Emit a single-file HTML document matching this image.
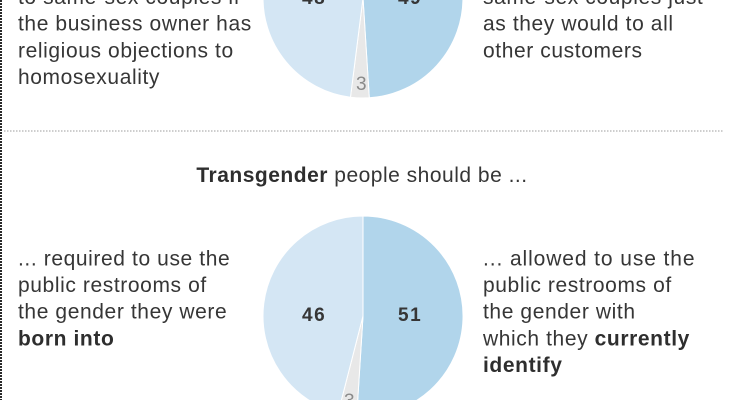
<!DOCTYPE html>
<html>
<head>
<meta charset="utf-8">
<style>
  html, body { margin: 0; padding: 0; background: #fff; }
  body { width: 740px; height: 400px; overflow: hidden; }
  svg { display: block; }
  .t { font-family: "Liberation Sans", Arial, sans-serif; font-size: 21px; fill: #363636; letter-spacing: 0.6px; }
  .b { font-weight: bold; fill: #2e2e2e; }
  .num { font-family: "Liberation Sans", Arial, sans-serif; font-size: 19px; font-weight: bold; fill: #363636; letter-spacing: 1.5px; }
  .three { font-family: "Liberation Sans", Arial, sans-serif; font-size: 19px; fill: #8a8a8a; }
</style>
</head>
<body>
<svg width="740" height="400" viewBox="0 0 740 400" xmlns="http://www.w3.org/2000/svg">
  <rect x="0" y="0" width="740" height="400" fill="#fff"/>

  <!-- left dotted border -->
  <line x1="1" y1="0" x2="1" y2="400" stroke="#2a2a2a" stroke-width="2" stroke-dasharray="2 1"/>

  <!-- horizontal dotted separator -->
  <line x1="4" y1="131" x2="723" y2="131" stroke="#bdbdbd" stroke-width="1.5" stroke-dasharray="1.5 1.5"/>

  <!-- Pie 1 -->
  <g stroke="#fff" stroke-width="1">
    <path d="M363,-2 L363,-102 A100,100 0 0 1 369.28,97.8 Z" fill="#b1d5eb"/>
    <path d="M363,-2 L369.28,97.8 A100,100 0 0 1 350.47,97.21 Z" fill="#e8e8e8"/>
    <path d="M363,-2 L350.47,97.21 A100,100 0 0 1 363,-102 Z" fill="#d4e6f4"/>
  </g>
  <text class="num" x="302" y="4">48</text>
  <text class="num" x="398" y="4">49</text>
  <text class="three" x="356" y="90">3</text>

  <!-- Pie 2 -->
  <g stroke="#fff" stroke-width="1">
    <path d="M363,316 L363,216 A100,100 0 1 1 356.72,415.8 Z" fill="#b1d5eb"/>
    <path d="M363,316 L356.72,415.8 A100,100 0 0 1 338.13,412.86 Z" fill="#e8e8e8"/>
    <path d="M363,316 L338.13,412.86 A100,100 0 0 1 363,216 Z" fill="#d4e6f4"/>
  </g>
  <text class="num" x="302" y="321">46</text>
  <text class="num" x="398" y="321">51</text>
  <text class="three" x="344" y="407">3</text>

  <!-- Top-left text -->
  <text class="t" x="18" y="4">to same-sex couples if</text>
  <text class="t" x="18" y="30.7">the business owner has</text>
  <text class="t" x="18" y="57.4">religious objections to</text>
  <text class="t" x="18" y="84.1">homosexuality</text>

  <!-- Top-right text -->
  <text class="t" x="483" y="4">same-sex couples just</text>
  <text class="t" x="483" y="30.7">as they would to all</text>
  <text class="t" x="483" y="57.4">other customers</text>

  <!-- Title -->
  <text class="t" x="362" y="182" text-anchor="middle" style="font-size:21px;letter-spacing:0.5px;"><tspan class="b">Transgender</tspan> people should be ...</text>

  <!-- Bottom-left text -->
  <text class="t" x="18" y="265.3">... required to use the</text>
  <text class="t" x="18" y="292">public restrooms of</text>
  <text class="t" x="18" y="318.7">the gender they were</text>
  <text class="t b" x="18" y="345.4">born into</text>

  <!-- Bottom-right text -->
  <text class="t" x="483" y="265.3" style="letter-spacing:0.9px;">... allowed to use the</text>
  <text class="t" x="483" y="292">public restrooms of</text>
  <text class="t" x="483" y="318.7">the gender with</text>
  <text class="t" x="483" y="345.4">which they <tspan class="b">currently</tspan></text>
  <text class="t b" x="483" y="372.1">identify</text>
</svg>
</body>
</html>
